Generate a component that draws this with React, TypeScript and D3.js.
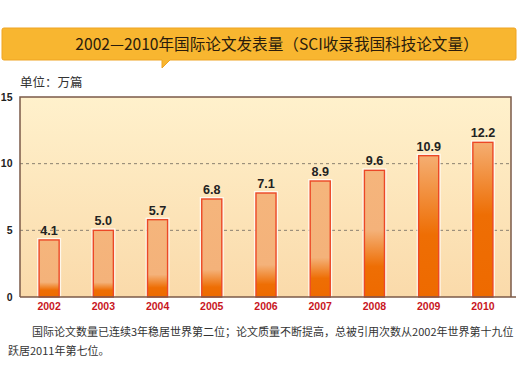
import React from "react";
import * as d3 from "d3";

const years = ["2002", "2003", "2004", "2005", "2006", "2007", "2008", "2009", "2010"];
// bar heights as drawn in the picture (万篇)
const barValues = [4.28, 5.0, 5.8, 7.35, 7.8, 8.7, 9.5, 10.6, 11.6];
// value labels printed above the bars
const valueLabels = ["4.1", "5.0", "5.7", "6.8", "7.1", "8.9", "9.6", "10.9", "12.2"];
const yTicks = [0, 5, 10, 15];
const gridTicks = [5, 10];

const titleA = "2002—2010年国际论文发表量";
const titleB = "SCI收录我国科技论文量";
const unitLabel = "单位：万篇";
const captionLine1 = "国际论文数量已连续3年稳居世界第二位；论文质量不断提高，总被引用次数从2002年世界第十九位";
const captionLine2 = "跃居2011年第七位。";

// style: gradient transition per bar (fraction of bar height from top)
const barGradientStops = [
  [0.74, 0.88], [0.78, 0.9], [0.71, 0.88], [0.72, 0.9], [0.69, 0.88],
  [0.66, 0.84], [0.47, 0.76], [0.0, 0.56], [0.0, 0.47],
];

const W = 520;
const H = 376;
const plot = { left: 20, right: 511, top: 97, bottom: 297 };
const sans = "'Liberation Sans', Arial, 'Noto Sans CJK SC', sans-serif";
const cjk = "'Noto Sans CJK SC', 'Liberation Sans', sans-serif";
const cjkTC = "'Noto Sans CJK TC', 'Noto Sans CJK SC', sans-serif";

export default function App() {
  const x = d3.scaleBand<string>().domain(years).range([22, 510]).paddingInner(0.63).paddingOuter(0.315);
  const y = d3.scaleLinear().domain([0, 15]).range([plot.bottom, plot.top]);
  const bw = x.bandwidth();

  return (
    <svg width={W} height={H} style={{ position: "absolute", left: 0, top: 0, background: "#fff" }}>
      <defs>
        <linearGradient id="bg" x1="0" y1="0" x2="0" y2="1">
          <stop offset="0" stopColor="#FFF1CC" />
          <stop offset="1" stopColor="#FADAAA" />
        </linearGradient>
        {years.map((yr, i) => {
          const [a, b] = barGradientStops[i];
          return (
            <linearGradient key={yr} id={`bar${i}`} x1="0" y1="0" x2="0" y2="1">
              <stop offset="0" stopColor={a === 0 ? "#F5AE72" : "#F5B57C"} />
              <stop offset={a} stopColor={a === 0 ? "#F5AE72" : "#F4B27A"} />
              <stop offset={b} stopColor="#EE6E04" />
              <stop offset="1" stopColor="#EE6A00" />
            </linearGradient>
          );
        })}
      </defs>

      {/* title banner */}
      <path
        d={`M4,28 H514 Q516,28 516,30 V58 Q516,60 514,60 H170 L162,68 V60 H4 Q2,60 2,58 V30 Q2,28 4,28 Z`}
        fill="#F8B630"
        stroke="#EFA422"
        strokeWidth={1}
      />
      <text x={277} y={50} textAnchor="middle" fontFamily={cjk} fontSize={15.6} fill="#2a1c0c">
        {titleA}
        <tspan fontFamily={cjkTC}>（</tspan>
        {titleB}
        <tspan fontFamily={cjkTC}>）</tspan>
      </text>

      <text x={20} y={87} fontFamily={cjk} fontSize={12.5} fill="#333">
        {unitLabel}
      </text>

      {/* plot background */}
      <rect x={plot.left} y={plot.top} width={plot.right - plot.left} height={plot.bottom - plot.top} fill="url(#bg)" />

      {/* grid */}
      {gridTicks.map((t) => (
        <line
          key={t}
          x1={plot.left}
          x2={plot.right}
          y1={y(t)}
          y2={y(t)}
          stroke="#8a8070"
          strokeWidth={1}
          strokeDasharray="3,3"
        />
      ))}

      {/* bars */}
      {years.map((yr, i) => {
        const x0 = x(yr)!;
        const top = y(barValues[i]);
        const h = plot.bottom - top;
        return (
          <g key={yr}>
            <rect x={x0 - 1} y={top - 1} width={bw + 2} height={h + 1} fill="none" stroke="#fff" strokeOpacity={0.75} strokeWidth={2} />
            <rect x={x0} y={top} width={bw} height={h} fill={`url(#bar${i})`} stroke="#EC4826" strokeWidth={1.4} />
            <text
              x={x0 + bw / 2}
              y={top - 5}
              textAnchor="middle"
              fontFamily={sans}
              fontWeight="bold"
              fontSize={12.6}
              fill="#222"
            >
              {valueLabels[i]}
            </text>
            <text
              x={x0 + bw / 2}
              y={310}
              textAnchor="middle"
              fontFamily={sans}
              fontWeight="bold"
              fontSize={10.5}
              fill="#C8161E"
            >
              {yr}
            </text>
          </g>
        );
      })}

      {/* frame */}
      <path
        d={`M${plot.left},${plot.bottom} V${plot.top} H${plot.right} V${plot.bottom}`}
        fill="none"
        stroke="#7B5A48"
        strokeWidth={1.5}
      />
      <line x1={plot.left} x2={516} y1={plot.bottom} y2={plot.bottom} stroke="#7B5A48" strokeWidth={1.5} />

      {/* y ticks */}
      {yTicks.map((t) => (
        <text key={t} x={12.5} y={y(t) + 3.5} textAnchor="end" fontFamily={sans} fontWeight="bold" fontSize={10.5} fill="#222">
          {t}
        </text>
      ))}

      {/* caption */}
      <text x={32} y={336} fontFamily={cjk} fontSize={11} fill="#333">
        {captionLine1}
      </text>
      <text x={8} y={355} fontFamily={cjk} fontSize={11} fill="#333">
        {captionLine2}
      </text>
    </svg>
  );
}
